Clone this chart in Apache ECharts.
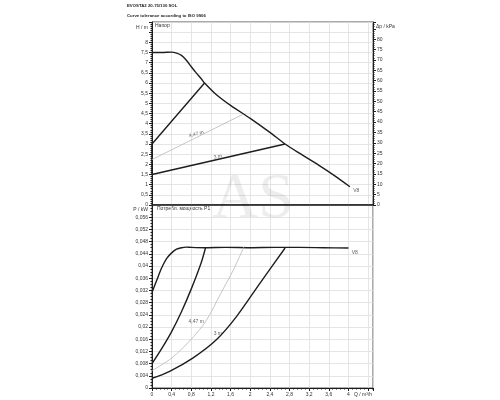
<!DOCTYPE html>
<html>
<head>
<meta charset="utf-8">
<script src="https://cdn.jsdelivr.net/npm/echarts@6/dist/echarts.min.js"></script>
<style>
  html, body { margin: 0; padding: 0; background: #fff; }
  #chart { width: 500px; height: 400px; }
</style>
</head>
<body>
<div id="chart"></div>
<script>
// Q / m3/h on both charts
// напор (H / m)
var flowMaxH = [0, 0.2, 0.4, 0.5, 0.6, 0.7, 0.8, 0.9, 1.0, 1.07, 1.3, 1.6, 2.0, 2.4, 2.71, 3.0, 3.4, 3.7, 4.03];
var headMax  = [7.5, 7.5, 7.52, 7.47, 7.36, 7.12, 6.8, 6.5, 6.22, 6.0, 5.45, 4.9, 4.26, 3.57, 3.0, 2.55, 1.95, 1.47, 0.9];
var flowUpperH = [0, 0, 1.07];
var headUpper  = [1.5, 3.0, 6.0];
var flow3mH = [0, 2.71];
var head3m  = [1.5, 3.0];
var flow447H = [0, 1.86];
var head447  = [2.235, 4.47];

// потребл. мощность P1 (P / kW)
var flowMaxP = [0, 0.1, 0.2, 0.3, 0.4, 0.5, 0.6, 0.7, 0.8, 1.1, 1.5, 2.0, 2.5, 3.0, 3.5, 4.0];
var powerMax = [0.0313, 0.0355, 0.0395, 0.0425, 0.0443, 0.0455, 0.046, 0.0462, 0.0461, 0.046, 0.0461, 0.046, 0.0461, 0.0461, 0.046, 0.0459];
var flowUpperP = [0, 0.2, 0.4, 0.6, 0.8, 1.0, 1.09];
var powerUpper = [0.008, 0.013, 0.0185, 0.025, 0.0325, 0.041, 0.046];
var flow447P = [0, 0.4, 0.8, 1.1, 1.4, 1.65, 1.87];
var power447 = [0.0057, 0.0098, 0.016, 0.022, 0.031, 0.0385, 0.0462];
var flow3mP = [0, 0.35, 0.83, 1.31, 1.72, 2.2, 2.71];
var power3m = [0.0032, 0.0054, 0.0098, 0.0158, 0.0234, 0.0344, 0.0459];

// curve names: [text, Q, value]
var notesH = [['V8', 4.16, 0.7], ['4,47 m', 0.9, 3.49], ['3 m', 1.34, 2.38]];
var notesP = [['V8', 4.13, 0.0445], ['4,47 m', 0.9, 0.0216], ['3 m', 1.34, 0.0178]];

function pairs(xs, ys) {
  var out = [];
  for (var i = 0; i < xs.length; i++) out.push([xs[i], ys[i]]);
  return out;
}
function comma(v) {
  return String(+v.toFixed(3)).replace('.', ',');
}

var font = 'Liberation Sans';
var dark = '#1e1e1e';
var gridColor = '#dedede';
var labelStyle = { fontSize: 5, color: '#333', fontFamily: font };

function curve(name, xi, yi, data, color, width, smooth) {
  return {
    name: name, type: 'line', xAxisIndex: xi, yAxisIndex: yi,
    data: data, showSymbol: false, symbol: 'none', smooth: smooth,
    lineStyle: { color: color, width: width }, z: 3
  };
}
function notes(list, xi, yi, rot) {
  return {
    type: 'scatter', xAxisIndex: xi, yAxisIndex: yi, symbolSize: 1,
    itemStyle: { color: 'rgba(0,0,0,0)' }, silent: true, z: 4,
    label: { show: true, position: 'inside', fontSize: 5, color: '#333', fontFamily: font,
      formatter: function (p) { return p.data.name; } },
    data: list.map(function (n, i) {
      return { name: n[0], value: [n[1], n[2]], label: { rotate: rot[i] } };
    })
  };
}

var chart = echarts.init(document.getElementById('chart'));
chart.setOption({
  animation: false,
  backgroundColor: '#fff',
  textStyle: { fontFamily: font },
  graphic: [
    { type: 'text', left: 127, top: 4, style: { text: 'EVOSTA2 20-75/130 SOL', font: 'bold 4.3px "Liberation Sans"', fill: '#222' } },
    { type: 'text', left: 127, top: 14, style: { text: 'Curve tolerance according to ISO 9906', font: 'bold 4.3px "Liberation Sans"', fill: '#222' } },
    { type: 'text', right: 352, top: 25, style: { text: 'H / m', font: '5px "Liberation Sans"', fill: '#333' } },
    { type: 'text', left: 376, top: 24, style: { text: 'Δp / kPa', font: '5px "Liberation Sans"', fill: '#333' } },
    { type: 'text', left: 155, top: 23, style: { text: 'Напор', font: '5px "Liberation Sans"', fill: '#333' } },
    { type: 'text', right: 352, top: 207, style: { text: 'P / kW', font: '5px "Liberation Sans"', fill: '#333' } },
    { type: 'text', left: 157, top: 206, style: { text: 'Потребл. мощность P1', font: '5px "Liberation Sans"', fill: '#333' } },
    { type: 'text', left: 354, top: 392, style: { text: 'Q / m³/h', font: '5px "Liberation Sans"', fill: '#333' } },
    { type: 'text', left: 212, top: 168, z: 1, silent: true,
      style: { text: 'AS', font: '64px "Liberation Serif"', fill: 'rgba(0,0,0,0.07)' } }
  ],
  grid: [
    { left: 152, right: 127, top: 22, height: 183, show: true, borderColor: '#555', borderWidth: 1 },
    { left: 152, right: 127, top: 205, height: 183, show: true, borderColor: '#555', borderWidth: 1 }
  ],
  xAxis: [
    { gridIndex: 0, type: 'value', min: 0, max: 4.5, interval: 0.4,
      axisLine: { lineStyle: { color: dark, width: 1.5 } },
      axisTick: { show: false }, axisLabel: { show: false },
      splitLine: { lineStyle: { color: gridColor, width: 0.8 } } },
    { gridIndex: 1, type: 'value', min: 0, max: 4.5, interval: 0.4,
      axisLine: { lineStyle: { color: dark, width: 1 } },
      axisTick: { length: 3, lineStyle: { color: dark } },
      minorTick: { show: true, splitNumber: 5, length: 1.5, lineStyle: { color: dark } },
      axisLabel: Object.assign({ margin: 4, showMaxLabel: false,
        formatter: function (v) { return v <= 4.01 ? comma(v) : ''; } }, labelStyle),
      splitLine: { lineStyle: { color: gridColor, width: 0.8 } } }
  ],
  yAxis: [
    { gridIndex: 0, type: 'value', min: 0, max: 9, interval: 0.5,
      axisLine: { show: true, lineStyle: { color: dark } },
      axisTick: { length: 3, lineStyle: { color: dark } },
      minorTick: { show: true, splitNumber: 5, length: 1.5, lineStyle: { color: dark } },
      axisLabel: Object.assign({ margin: 4,
        formatter: function (v) { return v <= 8.01 ? comma(v) : ''; } }, labelStyle),
      splitLine: { lineStyle: { color: gridColor, width: 0.8 } } },
    { gridIndex: 0, type: 'value', position: 'right', min: 0, max: 88.26, interval: 5,
      axisLine: { show: true, lineStyle: { color: dark } },
      axisTick: { length: 3, lineStyle: { color: dark } },
      minorTick: { show: true, splitNumber: 5, length: 1.5, lineStyle: { color: dark } },
      axisLabel: Object.assign({ margin: 4,
        formatter: function (v) { return v <= 80.01 ? String(v) : ''; } }, labelStyle),
      splitLine: { show: false } },
    { gridIndex: 1, type: 'value', min: 0, max: 0.06, interval: 0.004,
      axisLine: { show: true, lineStyle: { color: dark } },
      axisTick: { length: 3, lineStyle: { color: dark } },
      minorTick: { show: true, splitNumber: 4, length: 1.5, lineStyle: { color: dark } },
      axisLabel: Object.assign({ margin: 4,
        formatter: function (v) { return v <= 0.0561 ? comma(v) : ''; } }, labelStyle),
      splitLine: { lineStyle: { color: gridColor, width: 0.8 } } }
  ],
  series: [
    curve('V8', 0, 0, pairs(flowMaxH, headMax), dark, 1.4, 0.25),
    curve('6 m', 0, 0, pairs(flowUpperH, headUpper), dark, 1.4, false),
    curve('3 m', 0, 0, pairs(flow3mH, head3m), dark, 1.4, false),
    curve('4,47 m', 0, 0, pairs(flow447H, head447), '#b8b8b8', 0.8, false),
    curve('V8 P1', 1, 2, pairs(flowMaxP, powerMax), dark, 1.4, 0.3),
    curve('6 m P1', 1, 2, pairs(flowUpperP, powerUpper), dark, 1.4, 0.3),
    curve('4,47 m P1', 1, 2, pairs(flow447P, power447), '#b8b8b8', 0.8, 0.3),
    curve('3 m P1', 1, 2, pairs(flow3mP, power3m), dark, 1.4, 0.3),
    notes(notesH, 0, 0, [0, 15, 10]),
    notes(notesP, 1, 2, [0, 0, 0])
  ]
});
</script>
</body>
</html>
